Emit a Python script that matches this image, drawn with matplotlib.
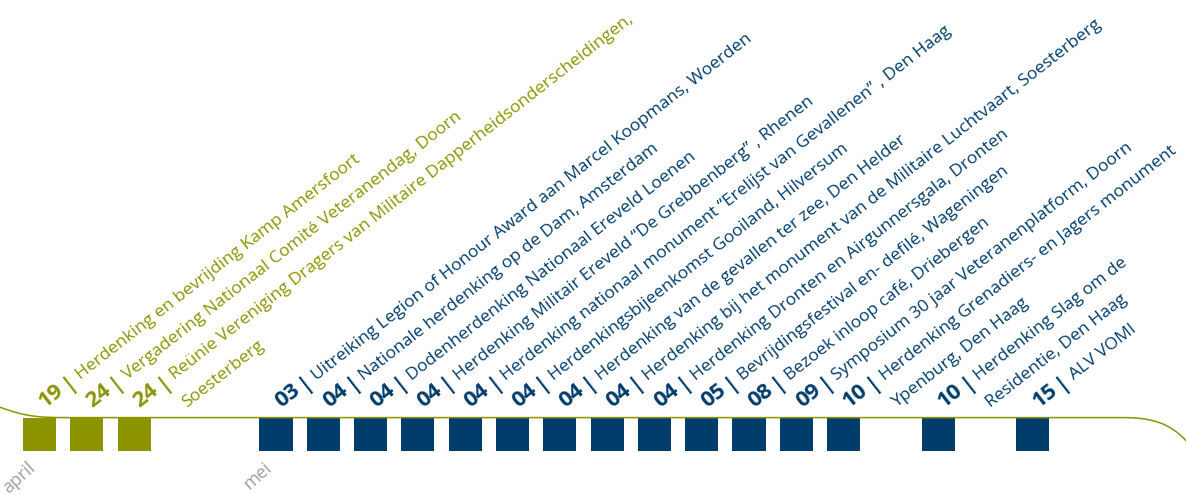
import numpy as np
import matplotlib.pyplot as plt
from matplotlib.path import Path
from matplotlib.patches import PathPatch

plt.rcParams['font.family'] = ['Open Sans', 'DejaVu Sans']

OLIVE = '#8c9400'
BLUE = '#003d6b'
GREY = '#a0a0a0'

# events per month: day, text lines (second line takes the next slot)
months = ['april', 'mei']
month_colors = [OLIVE, BLUE]

april_days = ['19', '24', '24']
april_events = [
    ['Herdenking en bevrijding Kamp Amersfoort'],
    ['Vergadering Nationaal Comité Veteranendag, Doorn'],
    ['Reünie Vereniging Dragers van Militaire Dapperheidsonderscheidingen,', 'Soesterberg'],
]

mei_days = ['03', '04', '04', '04', '04', '04', '04', '04', '04',
            '05', '08', '09', '10', '10', '15']
mei_events = [
    ['Uitreiking Legion of Honour Award aan Marcel Koopmans, Woerden'],
    ['Nationale herdenking op de Dam, Amsterdam'],
    ['Dodenherdenking Nationaal Ereveld Loenen'],
    ['Herdenking Militair Ereveld \u201cDe Grebbenberg\u201d , Rhenen'],
    ['Herdenking nationaal monument \u201cErelijst van Gevallenen\u201d , Den Haag'],
    ['Herdenkingsbijeenkomst Gooiland, Hilversum'],
    ['Herdenking van de gevallen ter zee, Den Helder'],
    ['Herdenking bij het monument van de Militaire Luchtvaart, Soesterberg'],
    ['Herdenking Dronten en Airgunnersgala, Dronten'],
    ['Bevrijdingsfestival en- defilé, Wageningen'],
    ['Bezoek inloop café, Driebergen'],
    ['Symposium 30 jaar Veteranenplatform, Doorn'],
    ['Herdenking Grenadiers- en Jagers monument', 'Ypenburg, Den Haag'],
    ['Herdenking Slag om de', 'Residentie, Den Haag'],
    ['ALV VOMI'],
]

month_days = [april_days, mei_days]
month_events = [april_events, mei_events]

ANGLE = 38
ca, sa = np.cos(np.radians(ANGLE)), np.sin(np.radians(ANGLE))
DAY_SIZE = 16
BAR_SIZE = 16
TXT_SIZE = 12.6

fig = plt.figure(figsize=(11.86, 4.95), dpi=100)
ax = fig.add_axes([0, 0, 1, 1])
ax.set_xlim(-0.835, 24.24)
ax.set_ylim(-2.31, 12.46)
ax.axis('off')

renderer = fig.canvas.get_renderer()


def width_pts(s, **kw):
    t = fig.text(0, 0, s, **kw)
    w = t.get_window_extent(renderer).width
    t.remove()
    return w * 72 / fig.dpi


def put(s, slot, d, color, **kw):
    # text along the slanted baseline, d points from the slot anchor
    ax.annotate(s, xy=(slot, 0), xytext=(4 + d * ca, 7 + d * sa),
                textcoords='offset points', rotation=ANGLE,
                rotation_mode='anchor', ha='left', va='baseline',
                color=color, **kw)


slot = 0
for m, name in enumerate(months):
    col = month_colors[m]
    first = slot
    slots = []
    for day, lines in zip(month_days[m], month_events[m]):
        slots.append(slot)
        d = 0
        put(day, slot, d, col, fontsize=DAY_SIZE, fontweight='bold')
        d += width_pts(day, fontsize=DAY_SIZE, fontweight='bold') + 2.5
        put('|', slot, d, col, fontsize=BAR_SIZE, fontweight='bold')
        d += width_pts('|', fontsize=BAR_SIZE, fontweight='bold') + 2.5
        put(lines[0], slot, d, col, fontsize=TXT_SIZE)
        for k, extra in enumerate(lines[1:], start=1):
            put(extra, slot + k, 0, col, fontsize=TXT_SIZE)
        slot += len(lines)
    ax.bar(slots, -1, width=0.70, bottom=0, color=col, zorder=2)
    ax.text(first - 0.27, -1.22, name, rotation=42, rotation_mode='anchor',
            ha='right', va='top', fontsize=13, color=GREY)
    slot += 1

# thin curved rule along the top of the squares
x0, x1 = ax.get_xlim()
verts = [(x0, 0.31), (x0 + 0.55, 0.02), (0.0, 0.0), (0.6, 0.0),
         (22.9, 0.0), (23.5, 0.0), (23.9, -0.15), (x1 + 0.02, -0.72)]
codes = [Path.MOVETO, Path.CURVE4, Path.CURVE4, Path.CURVE4,
         Path.LINETO, Path.CURVE4, Path.CURVE4, Path.CURVE4]
ax.add_patch(PathPatch(Path(verts, codes), fill=False, edgecolor=OLIVE,
                       lw=1.1, zorder=3))

fig.savefig('out.png', dpi=100)
